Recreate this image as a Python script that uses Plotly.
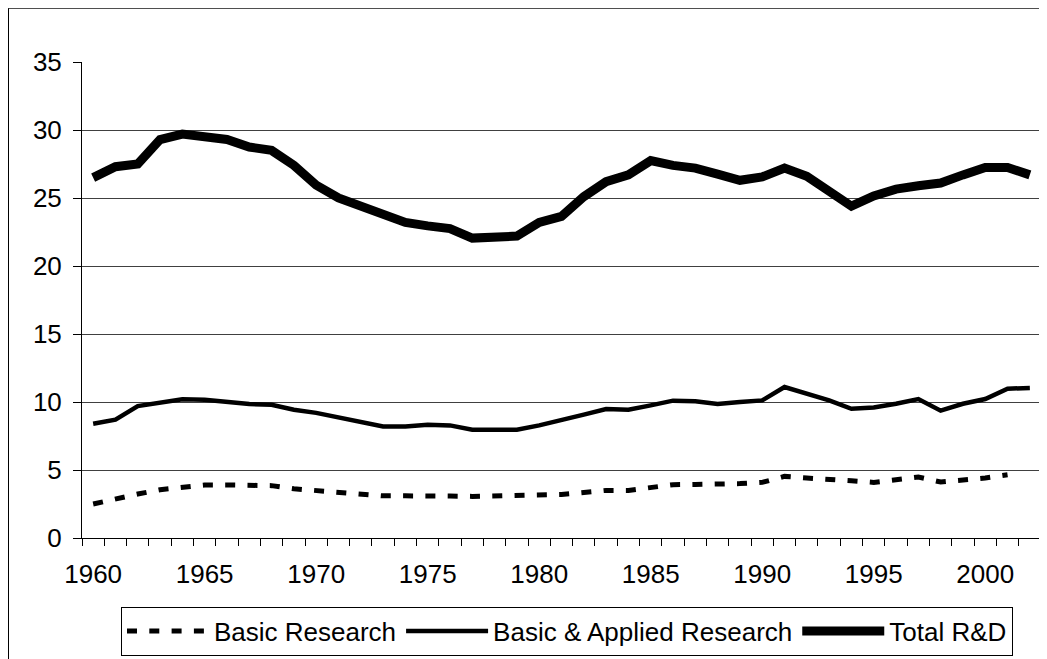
import plotly.graph_objects as go

years = list(range(1960, 2003))

basic_research = [2.5, 2.89, 3.23, 3.55, 3.75, 3.9, 3.9, 3.92, 3.85, 3.62,
                  3.5, 3.35, 3.18, 3.1, 3.1, 3.12, 3.08, 3.06, 3.1, 3.12,
                  3.2, 3.2, 3.35, 3.5, 3.5, 3.67, 3.92, 3.94, 3.94, 4.0,
                  4.09, 4.53, 4.41, 4.34, 4.21, 4.09, 4.29, 4.48, 4.12, 4.24,
                  4.41, 4.65, None]

basic_applied = [8.4, 8.7, 9.7, 9.93, 10.2, 10.17, 10.0, 9.85, 9.8, 9.43,
                 9.2, 8.85, 8.5, 8.2, 8.2, 8.33, 8.28, 7.96, 7.96, 7.96,
                 8.28, 8.65, 9.07, 9.48, 9.43, 9.75, 10.1, 10.05, 9.85, 10.0,
                 10.12, 11.1, 10.6, 10.12, 9.5, 9.6, 9.87, 10.22, 9.36, 9.87,
                 10.22, 10.98, 11.03]

total_rd = [26.5, 27.3, 27.5, 29.3, 29.7, 29.45, 29.3, 28.75, 28.5, 27.4,
            25.95, 25.0, 24.4, 23.85, 23.2, 22.95, 22.75, 22.05, 22.05, 22.2,
            23.2, 23.65, 25.1, 26.2, 26.7, 27.75, 27.4, 27.2, 26.75, 26.3,
            26.55, 27.2, 26.6, 25.4, 24.4, 25.15, 25.65, 25.9, 26.1, 26.7,
            27.25, 27.25, 26.7]

x_label_years = list(range(1960, 2001, 5))
y_tick_values = [0, 5, 10, 15, 20, 25, 30, 35]

# figure is drawn at an 8px page offset
W, H = 1047, 659
L, T = 74, 54.3
plot_right, plot_bottom = 1033, 530.3
R = W - plot_right
B = H - plot_bottom
pw = plot_right - L
ph = plot_bottom - T

FONT = "Liberation Sans, Arial, sans-serif"

fig = go.Figure()
fig.add_trace(go.Scatter(x=years, y=basic_research, mode="lines", name="Basic Research",
                         line=dict(color="black", width=5, dash="10px,12.3px")))
fig.add_trace(go.Scatter(x=years, y=basic_applied, mode="lines", name="Basic & Applied Research",
                         line=dict(color="black", width=4.5)))
fig.add_trace(go.Scatter(x=years, y=total_rd, mode="lines", name="Total R&D",
                         line=dict(color="black", width=9)))

boundaries = [y - 0.5 for y in years] + [years[-1] + 0.5]

fig.update_xaxes(
    range=[years[0] - 0.5, years[-1] + 0.5],
    tickmode="array", tickvals=x_label_years, ticktext=[str(v) for v in x_label_years],
    ticks="outside", ticklen=7, tickcolor="rgba(0,0,0,0)",
    ticklabelstandoff=6,
    showgrid=False, zeroline=False,
    showline=True, linecolor="black", linewidth=1,
    tickfont=dict(family=FONT, size=26, color="black"),
    minor=dict(tickmode="array", tickvals=boundaries, ticks="outside", ticklen=7,
               tickcolor="black", tickwidth=1, showgrid=False),
)
fig.update_yaxes(
    range=[0, 35], tickmode="array", tickvals=y_tick_values,
    ticks="outside", ticklen=8, tickcolor="black", tickwidth=1,
    ticklabelstandoff=6,
    showgrid=True, gridcolor="#404040", gridwidth=1,
    zeroline=False, showline=True, linecolor="black", linewidth=1,
    tickfont=dict(family=FONT, size=26, color="black"),
)

# right border of plot area and outer chart frame
fig.add_shape(type="line", xref="paper", yref="paper", x0=1, x1=1, y0=0, y1=1,
              line=dict(color="#707070", width=1.5))
fig.add_shape(type="rect", xref="paper", yref="paper",
              x0=(0.5 - L) / pw, x1=(W + 30 - L) / pw,
              y0=-(H + 30 - plot_bottom) / ph, y1=(plot_bottom - 0.5) / ph,
              line=dict(color="black", width=1), fillcolor="rgba(0,0,0,0)", layer="below")

fig.update_layout(
    width=W, height=H,
    margin=dict(l=L, r=R, t=T, b=B, autoexpand=False),
    paper_bgcolor="white", plot_bgcolor="white",
    font=dict(family=FONT, color="black"),
    showlegend=True,
    legend=dict(
        orientation="h", x=(559 - L) / pw, xanchor="center",
        y=-(599 - plot_bottom) / ph, yanchor="top",
        bordercolor="black", borderwidth=1, bgcolor="white",
        font=dict(family=FONT, size=26, color="black"),
        itemwidth=82,
    ),
)

fig.write_html("out.html")
